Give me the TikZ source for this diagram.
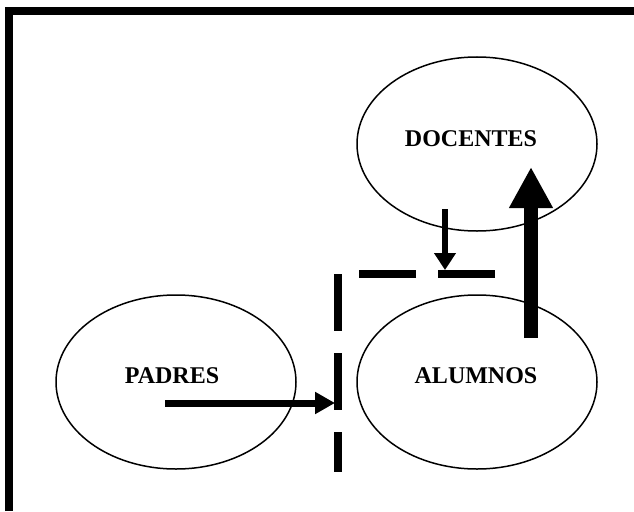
\documentclass[tikz,border=0pt]{standalone}
\usepackage{fontspec}
\setmainfont{Liberation Serif}
\usetikzlibrary{shapes.geometric,arrows.meta}

\tikzset{
  grupo/.style={draw, ellipse, line width=1.5pt, inner sep=0pt,
    minimum width=240pt, minimum height=174pt},
  rotulo/.style={font=\fontsize{24}{28}\selectfont\bfseries}
}

\begin{document}
\begin{tikzpicture}[x=1pt,y=-1pt]
\useasboundingbox (0,0) rectangle (634,511);
% Marco
\draw[line width=8pt, miter limit=10] (8.5,511) -- (8.5,11) -- (634,11);

% Grupos
\node[grupo] (docentes) at (477,144) {};
\node[grupo] (alumnos) at (477,382) {};
\node[grupo] (padres) at (176,382) {};
\node[rotulo] (docentestxt) at (471,139) {DOCENTES};
\node[rotulo] (alumnostxt) at (476,376) {ALUMNOS};
\node[rotulo] (padrestxt) at (172,376) {PADRES};

% Barrera
\coordinate (b1) at (495,273.5);
\coordinate (b2) at (337.5,273.5);
\coordinate (b3) at (337.5,472);
\draw[line width=8pt, dash pattern=on 57pt off 22pt] (b1) -- (b2) -- (b3);

% Flechas
\coordinate (p1) at (165,403);
\coordinate (p2) at (335,403);
\draw[line width=7pt, -{Triangle[length=20pt,width=21pt]}] (p1) -- (p2);
\coordinate (d1) at (445,209);
\coordinate (d2) at (445,270);
\draw[line width=6pt, -{Triangle[length=17pt,width=21pt]}] (d1) -- (d2);
\coordinate (a1) at (531,338);
\coordinate (a2) at (531,167);
\draw[line width=14pt, -{Triangle[length=41pt,width=41pt]}] (a1) -- (a2);
\end{tikzpicture}
\end{document}
